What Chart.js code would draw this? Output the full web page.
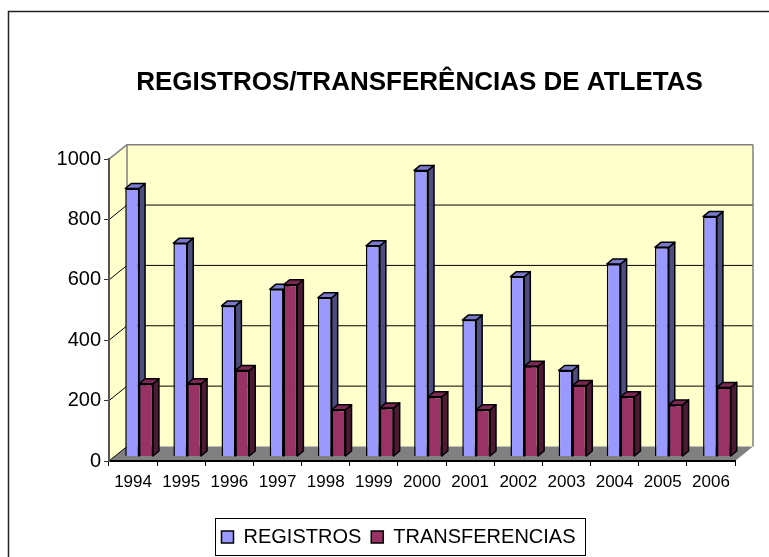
<!DOCTYPE html>
<html>
<head>
<meta charset="utf-8">
<title>Registros/Transferências de atletas</title>
<script src="https://cdn.jsdelivr.net/npm/chart.js@4"></script>
<style>
    html, body { margin: 0; padding: 0; background: #fff; }
    canvas { display: block; }
</style>
</head>
<body>
<canvas id="athletesChart" width="769" height="557"></canvas>
<script>
const years = ['1994', '1995', '1996', '1997', '1998', '1999', '2000', '2001', '2002', '2003', '2004', '2005', '2006'];
const registros = [888, 707, 499, 554, 526, 698, 948, 452, 596, 285, 638, 693, 795];
const transferencias = [241, 241, 285, 569, 155, 161, 198, 155, 299, 235, 198, 171, 229];
const yTicks = [0, 200, 400, 600, 800, 1000];

// 3D look: offsets of the back wall, the bars and the bar depth, in pixels
const WALL_DX = 18, WALL_DY = -14.5;
const BAR_DX = 6, BAR_DY = -4.5;
const DEPTH_DX = 6, DEPTH_DY = -5;

const faceColors = [
    { side: '#4D4D80', top: '#7A7ACC' },
    { side: '#4D1A33', top: '#7A2952' }
];

function polygon(ctx, points, fill, stroke, width) {
    ctx.beginPath();
    points.forEach(function(p, i) {
        if (i === 0) ctx.moveTo(p[0], p[1]);
        else ctx.lineTo(p[0], p[1]);
    });
    ctx.closePath();
    if (fill) {
        ctx.fillStyle = fill;
        ctx.fill();
    }
    if (stroke) {
        ctx.strokeStyle = stroke;
        ctx.lineWidth = width;
        ctx.stroke();
    }
}

function drawFaces(ctx, meta, colors) {
    meta.data.forEach(function(bar) {
        const left = bar.x - bar.width / 2;
        const right = bar.x + bar.width / 2;
        polygon(ctx, [[right, bar.y], [right + DEPTH_DX, bar.y + DEPTH_DY], [right + DEPTH_DX, bar.base + DEPTH_DY], [right, bar.base]], colors.side, '#000', 1.5);
        polygon(ctx, [[left, bar.y], [left + DEPTH_DX, bar.y + DEPTH_DY], [right + DEPTH_DX, bar.y + DEPTH_DY], [right, bar.y]], colors.top, '#000', 1.5);
    });
}

const depthPlugin = {
    id: 'depth',
    afterLayout(chart) {
        // title and legend are not centred on the plot
        chart.titleBlock.left += 24;
        chart.titleBlock.right += 24;
        chart.legend.left += 3;
        chart.legend.right += 3;
    },
    beforeDraw(chart) {
        const ctx = chart.ctx;
        const a = chart.chartArea;
        const y = chart.scales.y;
        ctx.save();

        // outer frame, open at the right and bottom edges
        ctx.strokeStyle = '#222';
        ctx.lineWidth = 1.5;
        ctx.beginPath();
        ctx.moveTo(8.5, 557);
        ctx.lineTo(8.5, 11.5);
        ctx.lineTo(769, 11.5);
        ctx.stroke();

        // walls and floor
        polygon(ctx, [[a.left, a.top], [a.left + WALL_DX, a.top + WALL_DY], [a.left + WALL_DX, a.bottom + WALL_DY], [a.left, a.bottom]], '#FFFFCC');
        polygon(ctx, [[a.left + WALL_DX, a.top + WALL_DY], [a.right + WALL_DX, a.top + WALL_DY], [a.right + WALL_DX, a.bottom + WALL_DY], [a.left + WALL_DX, a.bottom + WALL_DY]], '#FFFFCC');
        polygon(ctx, [[a.left, a.bottom], [a.right, a.bottom], [a.right + WALL_DX, a.bottom + WALL_DY], [a.left + WALL_DX, a.bottom + WALL_DY]], '#808080');

        // gridlines on the back wall and left wall
        yTicks.forEach(function(v) {
            const py = y.getPixelForValue(v);
            ctx.strokeStyle = v === 1000 ? '#808080' : '#000';
            ctx.lineWidth = v === 1000 ? 1.5 : 1;
            if (v > 0) {
                ctx.beginPath();
                ctx.moveTo(a.left + WALL_DX, py + WALL_DY);
                ctx.lineTo(a.right + WALL_DX, py + WALL_DY);
                ctx.stroke();
            }
            ctx.beginPath();
            ctx.moveTo(a.left, py);
            ctx.lineTo(a.left + WALL_DX, py + WALL_DY);
            ctx.stroke();
        });

        // wall edges
        ctx.strokeStyle = '#808080';
        ctx.lineWidth = 1.5;
        ctx.beginPath();
        ctx.moveTo(a.left + WALL_DX, a.bottom + WALL_DY);
        ctx.lineTo(a.left + WALL_DX, a.top + WALL_DY);
        ctx.moveTo(a.right + WALL_DX, a.top + WALL_DY);
        ctx.lineTo(a.right + WALL_DX, a.bottom + WALL_DY);
        ctx.stroke();

        // legend box
        ctx.strokeStyle = '#000';
        ctx.lineWidth = 1;
        ctx.strokeRect(215.5, 518.5, 370, 37);
        ctx.restore();
    },
    beforeDatasetDraw(chart, args) {
        const ctx = chart.ctx;
        ctx.save();
        ctx.translate(BAR_DX, BAR_DY);
        ctx.lineJoin = 'round';
        // Chart.js paints the last dataset first, so both sets of faces go down
        // before the maroon fronts; the blue sides then stay behind them
        if (args.index === 1) {
            drawFaces(ctx, chart.getDatasetMeta(0), faceColors[0]);
            drawFaces(ctx, args.meta, faceColors[1]);
        }
    },
    afterDatasetDraw(chart) {
        chart.ctx.restore();
    }
};

new Chart(document.getElementById('athletesChart'), {
    type: 'bar',
    data: {
        labels: years,
        datasets: [{
            label: 'REGISTROS',
            data: registros,
            backgroundColor: '#9999FF',
            borderColor: '#000',
            borderWidth: 1.5,
            clip: false
        }, {
            label: 'TRANSFERENCIAS',
            data: transferencias,
            backgroundColor: '#993366',
            borderColor: '#000',
            borderWidth: 1.5,
            clip: false
        }]
    },
    options: {
        responsive: false,
        animation: false,
        categoryPercentage: 0.575,
        barPercentage: 1,
        layout: {
            padding: { left: 56, right: 34, top: 0, bottom: 0 }
        },
        font: { family: 'Liberation Sans' },
        plugins: {
            tooltip: { enabled: false },
            title: {
                display: true,
                text: 'REGISTROS/TRANSFERÊNCIAS DE ATLETAS',
                color: '#000',
                font: { family: 'Liberation Sans', size: 26, weight: 'bold' },
                padding: { top: 67, bottom: 61 }
            },
            legend: {
                position: 'bottom',
                onClick: null,
                labels: {
                    color: '#000',
                    font: { family: 'Liberation Sans', size: 20 },
                    boxWidth: 12,
                    boxHeight: 12,
                    padding: 10
                }
            }
        },
        scales: {
            x: {
                afterFit: function(scale) {
                    scale.height = 56;
                },
                grid: {
                    drawOnChartArea: false,
                    tickLength: 5,
                    color: '#000',
                    tickColor: '#000'
                },
                border: { color: '#000', width: 2 },
                ticks: {
                    color: '#000',
                    font: { family: 'Liberation Sans', size: 17 },
                    padding: 6,
                    maxRotation: 0
                }
            },
            y: {
                min: 0,
                max: 1000,
                afterFit: function(scale) {
                    scale.width = 53;
                },
                afterBuildTicks: function(scale) {
                    scale.ticks = yTicks.map(function(v) { return { value: v }; });
                },
                grid: {
                    drawOnChartArea: false,
                    tickLength: 5,
                    tickColor: '#333'
                },
                border: { color: '#555', width: 2 },
                ticks: {
                    color: '#000',
                    font: { family: 'Liberation Sans', size: 20 },
                    padding: 3,
                    callback: function(value) {
                        return String(value);
                    }
                }
            }
        }
    },
    plugins: [depthPlugin]
});
</script>
</body>
</html>
